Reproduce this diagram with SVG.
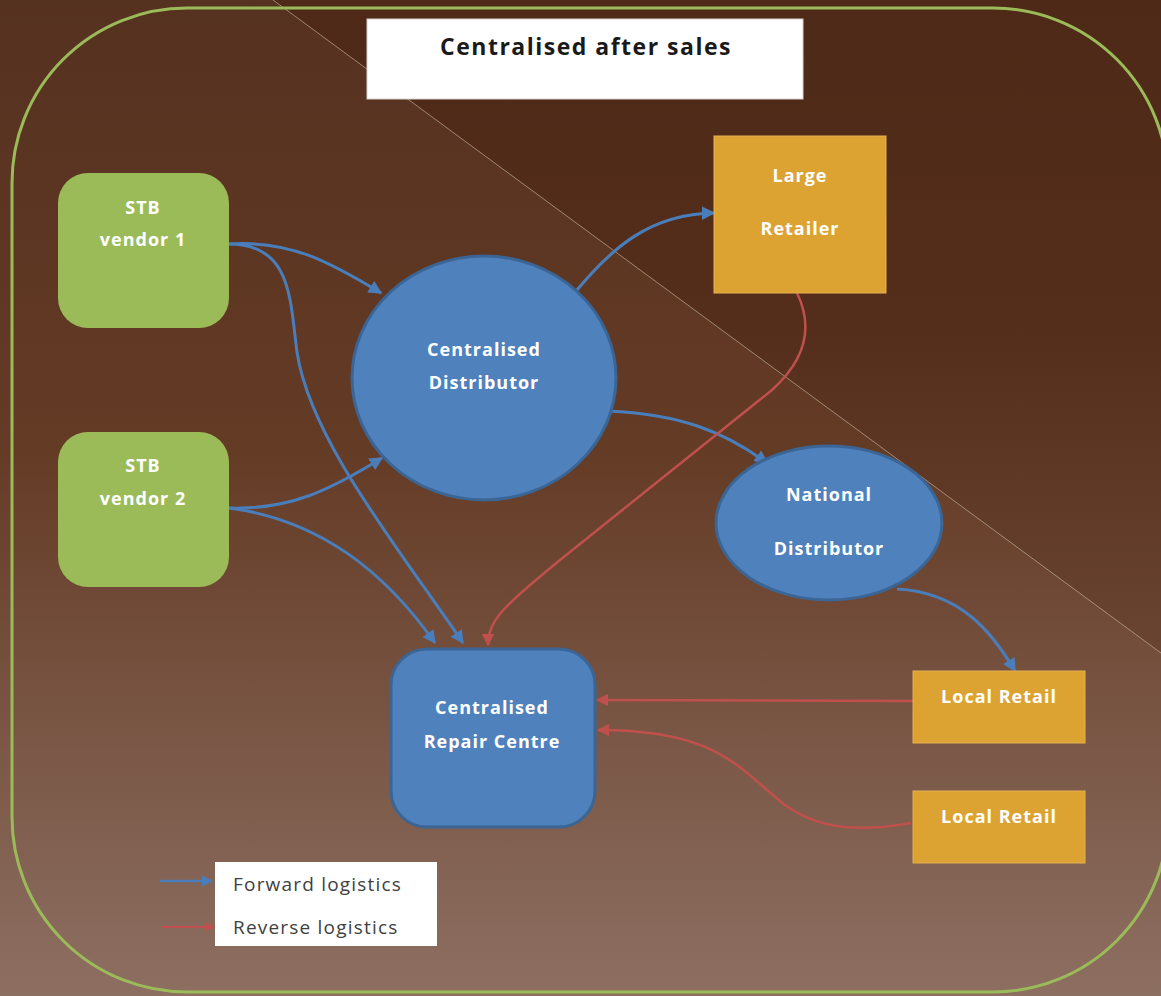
<svg xmlns="http://www.w3.org/2000/svg" width="1161" height="996" viewBox="0 0 1161 996">
<defs>
  <linearGradient id="bg" x1="0" y1="0" x2="0" y2="996" gradientUnits="userSpaceOnUse">
    <stop offset="0" stop-color="#553120"/>
    <stop offset="0.45" stop-color="#643b25"/>
    <stop offset="1" stop-color="#8d6f62"/>
  </linearGradient>
  <linearGradient id="bgtri" x1="0" y1="0" x2="0" y2="660" gradientUnits="userSpaceOnUse">
    <stop offset="0" stop-color="#4e2917"/>
    <stop offset="0.5" stop-color="#552e1b"/>
    <stop offset="1" stop-color="#6a4532"/>
  </linearGradient>
  <marker id="ab" viewBox="0 0 10 10" refX="9" refY="5" markerWidth="4.5" markerHeight="4.5" orient="auto" markerUnits="strokeWidth">
    <path d="M0,0 L10,5 L0,10 z" fill="#4a7ebb"/>
  </marker>
  <marker id="ar" viewBox="0 0 10 10" refX="9" refY="5" markerWidth="5" markerHeight="5" orient="auto" markerUnits="strokeWidth">
    <path d="M0,0 L10,5 L0,10 z" fill="#c0504d"/>
  </marker>
</defs>
<style>
  .lbl { font-family: "Open Sans", "Liberation Sans", sans-serif; font-weight: bold; font-size: 18px; fill: #ffffff; text-anchor: middle; letter-spacing: 1px; }
  .fwd { fill: none; stroke: #4a7ebb; stroke-width: 3; marker-end: url(#ab); }
  .rev { fill: none; stroke: #c0504d; stroke-width: 2.5; marker-end: url(#ar); }
  .leg { font-family: "Open Sans", "Liberation Sans", sans-serif; font-size: 19px; fill: #404040; letter-spacing: 1.2px; }
</style>

<rect x="0" y="0" width="1161" height="996" fill="url(#bg)"/>
<polygon points="273,0 1161,0 1161,653" fill="url(#bgtri)"/>
<line x1="273" y1="0" x2="1161" y2="653" stroke="#c8b8a8" stroke-width="0.8" opacity="0.8"/>
<rect x="12" y="8" width="1156" height="984" rx="175" ry="175" fill="none" stroke="#9bbb59" stroke-width="3"/>

<g id="title">
  <rect x="367" y="19" width="436" height="80" fill="#ffffff" stroke="#d8d0cc" stroke-width="1"/>
  <text x="586" y="55" font-family="'Open Sans', 'Liberation Sans', sans-serif" font-weight="bold" font-size="23" letter-spacing="1.5" fill="#1a1a1a" text-anchor="middle">Centralised after sales</text>
</g>

<g id="connectors">
  <path class="fwd" d="M229,244 C290,240 330,262 381,293"/>
  <path class="fwd" d="M229,244 C292,244 290,300 297,352 C310,440 400,550 463,643"/>
  <path class="fwd" d="M229,508 C290,510 330,490 382,458"/>
  <path class="fwd" d="M229,508 C320,520 385,572 435,643"/>
  <path class="fwd" d="M577,290 C612,248 650,214 714,213"/>
  <path class="fwd" d="M608,411 C680,414 725,432 767,463"/>
  <path class="fwd" d="M897,589 C960,592 992,632 1015,671"/>
  <path class="rev" d="M797,293 C815,330 803,362 772,390 L560,560 C505,605 488,620 488,645"/>
  <path class="rev" d="M913,701 L597,700"/>
  <path class="rev" d="M911,823 C860,832 820,830 785,805 C740,770 720,730 598,730"/>
</g>

<g id="vendor1">
  <rect x="58" y="173" width="171" height="155" rx="30" ry="30" fill="#9bbb59"/>
  <text class="lbl" x="143" y="214">STB</text>
  <text class="lbl" x="143" y="246">vendor 1</text>
</g>
<g id="vendor2">
  <rect x="58" y="432" width="171" height="155" rx="30" ry="30" fill="#9bbb59"/>
  <text class="lbl" x="143" y="472">STB</text>
  <text class="lbl" x="143" y="505">vendor 2</text>
</g>
<g id="distributor">
  <ellipse cx="484" cy="378" rx="132" ry="122" fill="#4f81bd" stroke="#3a6594" stroke-width="3"/>
  <text class="lbl" x="484" y="356">Centralised</text>
  <text class="lbl" x="484" y="389">Distributor</text>
</g>
<g id="large-retailer">
  <rect x="714" y="136" width="172" height="157" fill="#dca332" stroke="#e3b050" stroke-width="1"/>
  <text class="lbl" x="800" y="182">Large</text>
  <text class="lbl" x="800" y="235">Retailer</text>
</g>
<g id="national">
  <ellipse cx="829" cy="523" rx="113" ry="77" fill="#4f81bd" stroke="#3a6594" stroke-width="3"/>
  <text class="lbl" x="829" y="501">National</text>
  <text class="lbl" x="829" y="555">Distributor</text>
</g>
<g id="repair">
  <rect x="391" y="649" width="204" height="178" rx="36" ry="36" fill="#4f81bd" stroke="#3a6594" stroke-width="3"/>
  <text class="lbl" x="492" y="714">Centralised</text>
  <text class="lbl" x="492" y="748">Repair Centre</text>
</g>
<g id="local1">
  <rect x="913" y="671" width="172" height="72" fill="#dca332" stroke="#e3b050" stroke-width="1"/>
  <text class="lbl" x="999" y="703">Local Retail</text>
</g>
<g id="local2">
  <rect x="913" y="791" width="172" height="72" fill="#dca332" stroke="#e3b050" stroke-width="1"/>
  <text class="lbl" x="999" y="823">Local Retail</text>
</g>

<g id="legend">
  <rect x="215" y="862" width="222" height="84" fill="#ffffff"/>
  <text class="leg" x="233" y="891">Forward logistics</text>
  <text class="leg" x="233" y="934">Reverse logistics</text>
  <line class="fwd" x1="160" y1="881" x2="212" y2="881" style="stroke-width:2.5"/>
  <line class="rev" x1="162" y1="927" x2="214" y2="927" style="stroke-width:2"/>
</g>
</svg>
